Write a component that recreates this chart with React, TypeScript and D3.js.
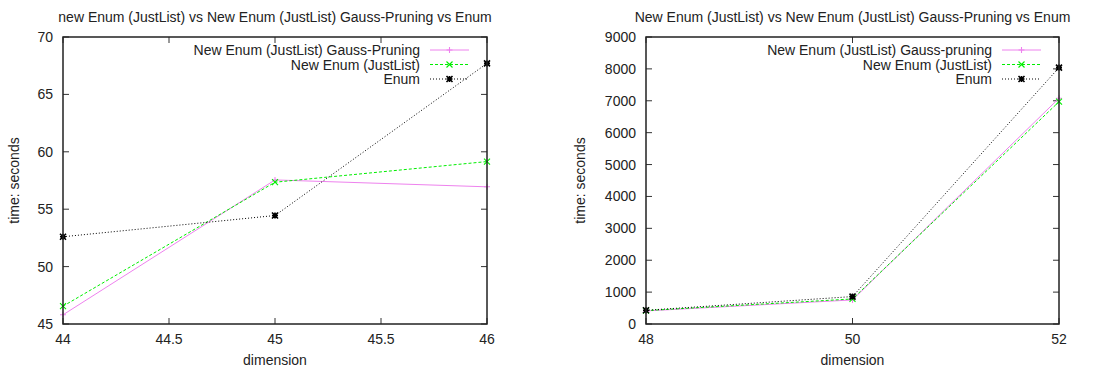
import { useRef, useEffect } from 'react';
import * as d3 from 'd3';

// left panel: dimensions 44..46
const leftDims = [44, 45, 46];
const leftGauss = [45.8, 57.55, 56.95];
const leftJustList = [46.55, 57.35, 59.15];
const leftEnum = [52.6, 54.45, 67.7];
const leftXTicks = [44, 44.5, 45, 45.5, 46];
const leftYTicks = [45, 50, 55, 60, 65, 70];

// right panel: dimensions 48..52
const rightDims = [48, 50, 52];
const rightGauss = [410, 755, 7080];
const rightJustList = [420, 785, 6970];
const rightEnum = [430, 860, 8040];
const rightXTicks = [48, 50, 52];
const rightYTicks = [0, 1000, 2000, 3000, 4000, 5000, 6000, 7000, 8000, 9000];

const FONT = 'Liberation Sans, Arial, Helvetica, sans-serif';
const PINK = '#ee82ee';
const GREEN = '#00ee00';
const BLACK = '#000000';
const FS = 14;

interface Series {
  label: string;
  values: number[];
  color: string;
  dash: string | null;
  marker: 'plus' | 'cross' | 'star';
}

interface PanelSpec {
  title: string;
  dims: number[];
  series: Series[];
  xTicks: number[];
  yTicks: number[];
  xDomain: [number, number];
  yDomain: [number, number];
  left: number;
  right: number;
  yLabelX: number;
}

function drawMarker(g: d3.Selection<SVGGElement, unknown, null, undefined>, kind: string, x: number, y: number, color: string) {
  const s = 3;
  const path = d3.path();
  if (kind === 'plus' || kind === 'star') {
    path.moveTo(x - s, y); path.lineTo(x + s, y);
    path.moveTo(x, y - s); path.lineTo(x, y + s);
  }
  if (kind === 'cross' || kind === 'star') {
    path.moveTo(x - s, y - s); path.lineTo(x + s, y + s);
    path.moveTo(x - s, y + s); path.lineTo(x + s, y - s);
  }
  g.append('path')
    .attr('d', path.toString())
    .attr('stroke', color)
    .attr('stroke-width', kind === 'star' ? 1.6 : 1.1)
    .attr('fill', 'none');
}

function drawPanel(svg: d3.Selection<SVGSVGElement, unknown, null, undefined>, p: PanelSpec) {
  const top = 37;
  const bottom = 324;
  const x = d3.scaleLinear().domain(p.xDomain).range([p.left, p.right]);
  const y = d3.scaleLinear().domain(p.yDomain).range([bottom, top]);
  const g = svg.append('g');
  const tickLen = 6;

  // title
  g.append('text')
    .attr('x', (p.left + p.right) / 2)
    .attr('y', 22)
    .attr('text-anchor', 'middle')
    .attr('font-size', FS)
    .attr('fill', '#222')
    .text(p.title);

  // ticks on all four sides
  p.yTicks.forEach((t) => {
    g.append('line').attr('x1', p.left).attr('x2', p.left + tickLen)
      .attr('y1', y(t)).attr('y2', y(t)).attr('stroke', '#333').attr('stroke-width', 1);
    g.append('line').attr('x1', p.right).attr('x2', p.right - tickLen)
      .attr('y1', y(t)).attr('y2', y(t)).attr('stroke', '#333').attr('stroke-width', 1);
    g.append('text')
      .attr('x', p.left - 10)
      .attr('y', y(t) + 5)
      .attr('text-anchor', 'end')
      .attr('font-size', FS)
      .attr('fill', '#222')
      .text(String(t));
  });
  p.xTicks.forEach((t) => {
    g.append('line').attr('x1', x(t)).attr('x2', x(t))
      .attr('y1', bottom).attr('y2', bottom - tickLen).attr('stroke', '#333').attr('stroke-width', 1);
    g.append('line').attr('x1', x(t)).attr('x2', x(t))
      .attr('y1', top).attr('y2', top + tickLen).attr('stroke', '#333').attr('stroke-width', 1);
    g.append('text')
      .attr('x', x(t))
      .attr('y', 344)
      .attr('text-anchor', 'middle')
      .attr('font-size', FS)
      .attr('fill', '#222')
      .text(String(t));
  });

  // axis labels
  g.append('text')
    .attr('x', (p.left + p.right) / 2)
    .attr('y', 365)
    .attr('text-anchor', 'middle')
    .attr('font-size', FS)
    .attr('fill', '#222')
    .text('dimension');
  g.append('text')
    .attr('transform', `translate(${p.yLabelX},${(top + bottom) / 2}) rotate(-90)`)
    .attr('text-anchor', 'middle')
    .attr('font-size', FS)
    .attr('fill', '#222')
    .text('time: seconds');

  const plot = g.append('g');
  const line = d3.line<[number, number]>().x((d) => x(d[0])).y((d) => y(d[1]));

  p.series.forEach((s) => {
    const pts = p.dims.map((d, i) => [d, s.values[i]] as [number, number]);
    plot.append('path')
      .attr('d', line(pts) || '')
      .attr('fill', 'none')
      .attr('stroke', s.color)
      .attr('stroke-width', 1)
      .attr('stroke-dasharray', s.dash);
    pts.forEach((pt) => drawMarker(plot, s.marker, x(pt[0]), y(pt[1]), s.color));
  });

  // legend
  p.series.forEach((s, i) => {
    const ly = 50 + i * 14.5;
    g.append('text')
      .attr('x', p.right - 67)
      .attr('y', ly + 5)
      .attr('text-anchor', 'end')
      .attr('font-size', FS)
      .attr('fill', '#222')
      .text(s.label);
    g.append('line')
      .attr('x1', p.right - 57).attr('x2', p.right - 18)
      .attr('y1', ly).attr('y2', ly)
      .attr('stroke', s.color).attr('stroke-width', 1)
      .attr('stroke-dasharray', s.dash);
    drawMarker(g, s.marker, p.right - 37.5, ly, s.color);
  });

  // border
  g.append('rect')
    .attr('x', p.left).attr('y', top)
    .attr('width', p.right - p.left).attr('height', bottom - top)
    .attr('fill', 'none').attr('stroke', '#222').attr('stroke-width', 1.5);
}

export default function App() {
  const svgRef = useRef<SVGSVGElement>(null);

  useEffect(() => {
    if (!svgRef.current) return;
    const svg = d3.select(svgRef.current);
    svg.selectAll('*').remove();

    drawPanel(svg, {
      title: 'new Enum (JustList) vs New Enum (JustList) Gauss-Pruning vs Enum',
      dims: leftDims,
      series: [
        { label: 'New Enum (JustList) Gauss-Pruning', values: leftGauss, color: PINK, dash: null, marker: 'plus' },
        { label: 'New Enum (JustList)', values: leftJustList, color: GREEN, dash: '3,2', marker: 'cross' },
        { label: 'Enum', values: leftEnum, color: BLACK, dash: '1,2', marker: 'star' },
      ],
      xTicks: leftXTicks,
      yTicks: leftYTicks,
      xDomain: [44, 46],
      yDomain: [45, 70],
      left: 63,
      right: 487,
      yLabelX: 19,
    });

    drawPanel(svg, {
      title: 'New Enum (JustList) vs New Enum (JustList) Gauss-Pruning vs Enum',
      dims: rightDims,
      series: [
        { label: 'New Enum (JustList) Gauss-pruning', values: rightGauss, color: PINK, dash: null, marker: 'plus' },
        { label: 'New Enum (JustList)', values: rightJustList, color: GREEN, dash: '3,2', marker: 'cross' },
        { label: 'Enum', values: rightEnum, color: BLACK, dash: '1,2', marker: 'star' },
      ],
      xTicks: rightXTicks,
      yTicks: rightYTicks,
      xDomain: [48, 52],
      yDomain: [0, 9000],
      left: 646,
      right: 1059,
      yLabelX: 585,
    });
  }, []);

  return (
    <div style={{ position: 'absolute', left: 0, top: 0 }}>
      <svg ref={svgRef} width={1102} height={369} fontFamily={FONT} style={{ display: 'block', background: '#fff' }} />
    </div>
  );
}
